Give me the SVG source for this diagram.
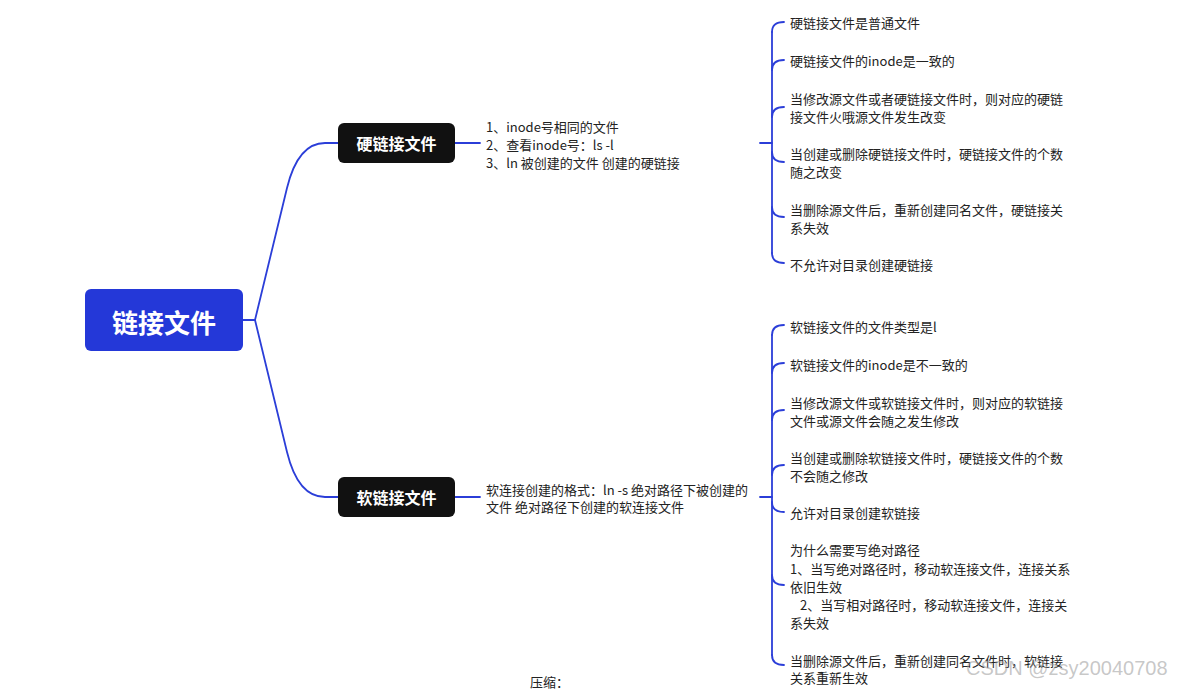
<svg xmlns="http://www.w3.org/2000/svg" width="1196" height="690" viewBox="0 0 1196 690">
<style>
.t{font-family:"Noto Sans CJK SC","Noto Sans",sans-serif;font-size:13px;fill:#222;dominant-baseline:central}
.b{font-family:"Noto Sans CJK SC",sans-serif;font-weight:bold;fill:#fff;text-anchor:middle;dominant-baseline:central}
.c{fill:none;stroke:#2B3ED8;stroke-width:1.8;stroke-linecap:round}
</style>
<rect width="1196" height="690" fill="#fff"/>
<g id="connectors">
<path class="c" d="M243,320 L255,320"/>
<path class="c" d="M255,320 L287,188 Q298,143 325,143 L338,143"/>
<path class="c" d="M255,320 L287,452 Q298,497 325,497 L338,497"/>
<path class="c" d="M455,143 L480,143"/>
<path class="c" d="M455,497 L480,497"/>
<path class="c" d="M760,143 L772,143"/>
<path class="c" d="M760,497 L772,497"/>
<path class="c" d="M772,32 L772,253"/>
<path class="c" d="M772,32 Q772,22 784,22"/>
<path class="c" d="M772,70 Q772,60 784,60"/>
<path class="c" d="M772,117 Q772,107 784,107"/>
<path class="c" d="M772,152 Q772,162 784,162"/>
<path class="c" d="M772,207 Q772,217 784,217"/>
<path class="c" d="M772,253 Q772,263 784,263"/>
<path class="c" d="M772,335 L772,655"/>
<path class="c" d="M772,335 Q772,325 784,325"/>
<path class="c" d="M772,373 Q772,363 784,363"/>
<path class="c" d="M772,420 Q772,410 784,410"/>
<path class="c" d="M772,475 Q772,465 784,465"/>
<path class="c" d="M772,502 Q772,512 784,512"/>
<path class="c" d="M772,575 Q772,585 784,585"/>
<path class="c" d="M772,655 Q772,665 784,665"/>
</g>
<g id="root">
<rect x="85" y="289" width="158" height="62" rx="6" fill="#2438D8"/>
<text class="b" x="164" y="321" font-size="26">链接文件</text>
</g>
<g id="hard">
<rect x="338" y="123" width="117" height="40" rx="6" fill="#111"/>
<text class="b" x="396.5" y="143" font-size="16">硬链接文件</text>
</g>
<g id="soft">
<rect x="338" y="477" width="117" height="40" rx="6" fill="#111"/>
<text class="b" x="396.5" y="497" font-size="16">软链接文件</text>
</g>
<g id="hard-desc">
<text class="t" x="486" y="126">1、inode号相同的文件</text>
<text class="t" x="486" y="144">2、查看inode号：ls -l</text>
<text class="t" x="486" y="162">3、ln 被创建的文件 创建的硬链接</text>
</g>
<g id="soft-desc">
<text class="t" x="486" y="489">软连接创建的格式：ln -s  绝对路径下被创建的</text>
<text class="t" x="486" y="506">文件 绝对路径下创建的软连接文件</text>
</g>
<g id="h1"><text class="t" x="790" y="22">硬链接文件是普通文件</text></g>
<g id="h2"><text class="t" x="790" y="60">硬链接文件的inode是一致的</text></g>
<g id="h3"><text class="t" x="790" y="98">当修改源文件或者硬链接文件时，则对应的硬链</text><text class="t" x="790" y="116">接文件火哦源文件发生改变</text></g>
<g id="h4"><text class="t" x="790" y="153">当创建或删除硬链接文件时，硬链接文件的个数</text><text class="t" x="790" y="171">随之改变</text></g>
<g id="h5"><text class="t" x="790" y="209">当删除源文件后，重新创建同名文件，硬链接关</text><text class="t" x="790" y="227">系失效</text></g>
<g id="h6"><text class="t" x="790" y="264">不允许对目录创建硬链接</text></g>
<g id="s1"><text class="t" x="790" y="326">软链接文件的文件类型是l</text></g>
<g id="s2"><text class="t" x="790" y="364">软链接文件的inode是不一致的</text></g>
<g id="s3"><text class="t" x="790" y="402">当修改源文件或软链接文件时，则对应的软链接</text><text class="t" x="790" y="420">文件或源文件会随之发生修改</text></g>
<g id="s4"><text class="t" x="790" y="457">当创建或删除软链接文件时，硬链接文件的个数</text><text class="t" x="790" y="475">不会随之修改</text></g>
<g id="s5"><text class="t" x="790" y="512">允许对目录创建软链接</text></g>
<g id="s6">
<text class="t" x="790" y="549">为什么需要写绝对路径</text>
<text class="t" x="790" y="568">1、当写绝对路径时，移动软连接文件，连接关系</text>
<text class="t" x="790" y="586">依旧生效</text>
<text class="t" x="800" y="604">2、当写相对路径时，移动软连接文件，连接关</text>
<text class="t" x="790" y="622">系失效</text>
</g>
<g id="s7"><text class="t" x="790" y="660">当删除源文件后，重新创建同名文件时，软链接</text><text class="t" x="790" y="677">关系重新生效</text></g>
<text class="t" x="530" y="681">压缩：</text>
<text x="966" y="668" font-family="Liberation Sans,Arial,sans-serif" font-size="20" fill="#999" fill-opacity="0.55" dominant-baseline="central">CSDN @zsy20040708</text>
</svg>
